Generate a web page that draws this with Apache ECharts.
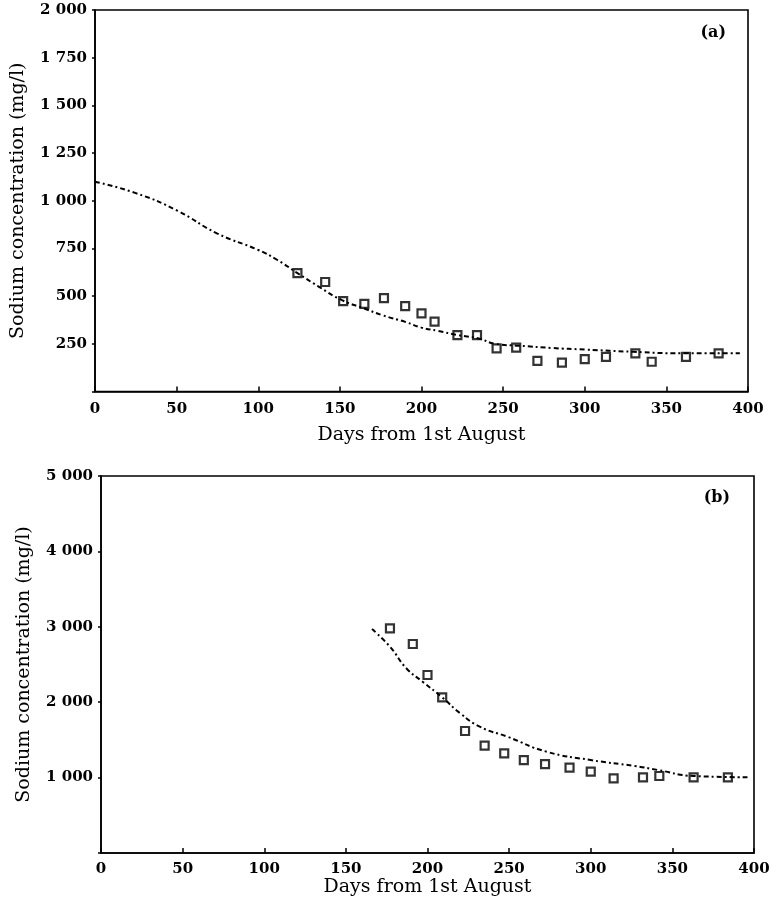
<!DOCTYPE html>
<html>
<head>
<meta charset="utf-8">
<script src="https://cdn.jsdelivr.net/npm/echarts@6/dist/echarts.min.js"></script>
<style>
  html, body { margin: 0; padding: 0; background: #fff; }
  #chart { width: 773px; height: 906px; }
</style>
</head>
<body>
<div id="chart"></div>
<script>
// (a) measured points and fitted curve
const daysA = [124, 141, 152, 165, 177, 190, 200, 208, 222, 234, 246, 258, 271, 286, 300, 313, 331, 341, 362, 382]
const sodiumA = [621, 574, 474, 459, 490, 448, 410, 366, 296, 296, 226, 230, 161, 151, 170, 182, 200, 156, 182, 200]
const fitDaysA = [0, 25, 50, 75, 100, 112, 124, 137, 151, 165, 176, 190, 200, 210, 222, 235, 245, 260, 280, 300, 330, 360, 395]
const fitSodiumA = [1100, 1040, 950, 828, 742, 688, 621, 550, 480, 435, 400, 365, 335, 318, 296, 278, 250, 240, 228, 220, 208, 200, 200]

// (b) measured points and fitted curve
const daysB = [177, 191, 200, 209, 223, 235, 247, 259, 272, 287, 300, 314, 332, 342, 363, 384]
const sodiumB = [2980, 2772, 2361, 2065, 1618, 1423, 1322, 1233, 1180, 1131, 1078, 991, 1004, 1021, 1004, 1004]
const fitDaysB = [166, 177, 187, 197, 209, 220, 232, 249, 273, 300, 327, 341, 363, 396]
const fitSodiumB = [2970, 2736, 2450, 2272, 2065, 1853, 1675, 1542, 1343, 1233, 1154, 1101, 1021, 1004]

const panelLabels = ['(a)', '(b)']
const xTitle = 'Days from 1st August'
const yTitle = 'Sodium concentration (mg/l)'

const font = 'DejaVu Serif'

const fmtThousands = v => {
  if (v === 0) return ''
  if (v >= 1000) return Math.floor(v / 1000) + ' ' + String(v % 1000).padStart(3, '0')
  return String(v)
}

const pairs = (xs, ys) => xs.map((x, i) => [x, ys[i]])

const chart = echarts.init(document.getElementById('chart'))

const makeX = (gridIndex, nameGap, labelMargin) => ({
  gridIndex,
  type: 'value',
  min: 0,
  max: 400,
  interval: 50,
  axisLine: { lineStyle: { color: '#000', width: 1.6 } },
  axisTick: { inside: true, length: 5, lineStyle: { color: '#000', width: 1.5 } },
  axisLabel: { color: '#000', fontFamily: font, fontSize: 15, fontWeight: 'bold', margin: labelMargin },
  splitLine: { show: false },
  name: xTitle,
  nameLocation: 'middle',
  nameGap,
  nameTextStyle: { color: '#000', fontFamily: font, fontSize: 19 }
})

const makeY = (gridIndex, max, interval) => ({
  gridIndex,
  type: 'value',
  min: 0,
  max,
  interval,
  axisLine: { lineStyle: { color: '#000', width: 1.6 } },
  axisTick: { length: 3, lineStyle: { color: '#000', width: 1.5 } },
  axisLabel: { color: '#000', fontFamily: font, fontSize: 15, fontWeight: 'bold', margin: 8, formatter: fmtThousands },
  splitLine: { show: false },
  name: yTitle,
  nameLocation: 'middle',
  nameGap: 67,
  nameTextStyle: { color: '#000', fontFamily: font, fontSize: 19 }
})

const fitLine = (xAxisIndex, data) => ({
  type: 'line',
  xAxisIndex,
  yAxisIndex: xAxisIndex,
  data,
  smooth: true,
  showSymbol: false,
  lineStyle: { color: '#000', width: 2, type: [5, 3, 2, 3] },
  z: 2
})

const points = (xAxisIndex, data) => ({
  type: 'scatter',
  xAxisIndex,
  yAxisIndex: xAxisIndex,
  data,
  symbol: 'rect',
  symbolSize: 8,
  itemStyle: { color: 'transparent', borderColor: '#000', borderWidth: 2.2 },
  z: 3
})

const labelStyle = { color: '#000', fontFamily: font, fontSize: 16, fontWeight: 'bold' }

const option = {
  backgroundColor: '#fff',
  animation: false,
  title: [
    { text: panelLabels[0], right: 42, top: 20, textStyle: labelStyle },
    { text: panelLabels[1], right: 38, top: 485, textStyle: labelStyle }
  ],
  grid: [
    { left: 95, top: 10, width: 653, height: 381.5, show: true, borderColor: '#000', borderWidth: 1.6 },
    { left: 101, top: 476, width: 653, height: 377, show: true, borderColor: '#000', borderWidth: 1.6 }
  ],
  xAxis: [makeX(0, 34, 10), makeX(1, 25, 9)],
  yAxis: [makeY(0, 2000, 250), makeY(1, 5000, 1000)],
  series: [
    fitLine(0, pairs(fitDaysA, fitSodiumA)),
    points(0, pairs(daysA, sodiumA)),
    fitLine(1, pairs(fitDaysB, fitSodiumB)),
    points(1, pairs(daysB, sodiumB))
  ]
}

chart.setOption(option)

window.addEventListener('resize', () => {
  chart.resize()
})
</script>
</body>
</html>
